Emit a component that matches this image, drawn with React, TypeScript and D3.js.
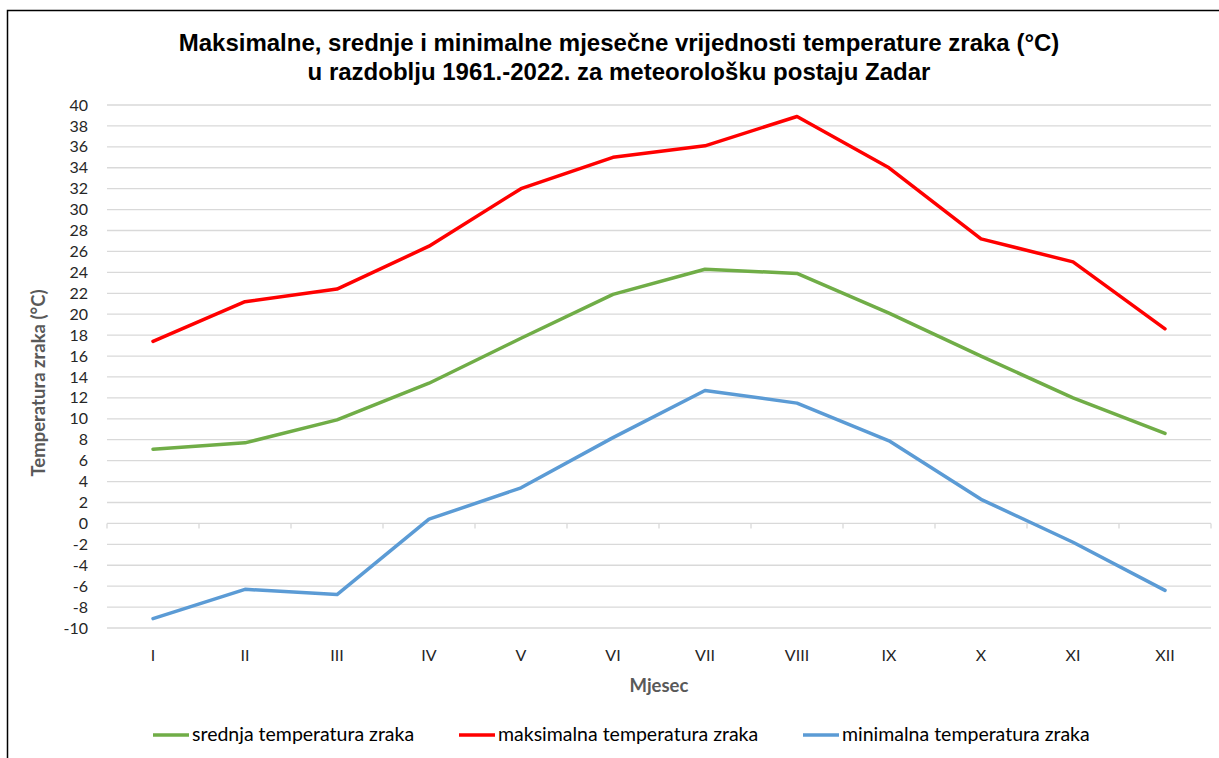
import React from "react";
import * as d3 from "d3";

const months = ["I", "II", "III", "IV", "V", "VI", "VII", "VIII", "IX", "X", "XI", "XII"];
const meanTemp = [7.1, 7.7, 9.9, 13.4, 17.7, 21.9, 24.3, 23.9, 20.1, 16.0, 12.0, 8.6];
const maxTemp = [17.4, 21.2, 22.4, 26.5, 32.0, 35.0, 36.1, 38.9, 34.0, 27.2, 25.0, 18.6];
const minTemp = [-9.1, -6.3, -6.8, 0.4, 3.4, 8.2, 12.7, 11.5, 7.9, 2.3, -1.8, -6.4];
const yTicks = d3.range(-10, 41, 2);

const series = [
  { name: "srednja temperatura zraka", values: meanTemp, color: "#70ad47" },
  { name: "maksimalna temperatura zraka", values: maxTemp, color: "#ff0000" },
  { name: "minimalna temperatura zraka", values: minTemp, color: "#5b9bd5" },
];

const W = 1219;
const H = 758;
const plot = { left: 107, right: 1211, top: 105, bottom: 628 };
const tickFont = "Lato, 'Noto Sans', sans-serif";
const titleFont = "'Liberation Sans', Arial, sans-serif";

export default function App() {
  const x = d3.scaleBand().domain(months).range([plot.left, plot.right]).padding(0);
  const y = d3.scaleLinear().domain([-10, 40]).range([plot.bottom, plot.top]);
  const cx = (m: string) => (x(m) as number) + x.bandwidth() / 2;

  const line = d3
    .line<number>()
    .x((_, i) => cx(months[i]))
    .y((d) => y(d));

  const legendX = [153, 459, 803];

  return (
    <div style={{ position: "fixed", left: 0, top: 0 }}>
      <svg width={W} height={H} style={{ display: "block", background: "#fff" }}>
        <rect x={7.5} y={10.5} width={1240} height={780} fill="#fff" stroke="#000" strokeWidth={1.5} />

        {/* title */}
        <text x={619} y={51} textAnchor="middle" fontFamily={titleFont} fontWeight="bold" fontSize={24} fill="#000">
          Maksimalne, srednje i minimalne mjesečne vrijednosti temperature zraka (°C)
        </text>
        <text x={619} y={80} textAnchor="middle" fontFamily={titleFont} fontWeight="bold" fontSize={24} fill="#000">
          u razdoblju 1961.-2022. za meteorološku postaju Zadar
        </text>

        {/* gridlines + y labels */}
        {yTicks.map((t) => (
          <g key={t}>
            <line x1={plot.left} x2={plot.right} y1={y(t)} y2={y(t)} stroke="#d9d9d9" strokeWidth={1.3} />
            <text x={88} y={y(t)} dy="0.35em" textAnchor="end" fontFamily={tickFont} fontSize={16} fill="#262626">
              {t}
            </text>
          </g>
        ))}

        {/* category boundary ticks on the zero line */}
        {[...months.map((m) => x(m) as number), plot.right].map((bx, i) => (
          <line key={i} x1={bx} x2={bx} y1={y(0)} y2={y(0) + 5} stroke="#d9d9d9" strokeWidth={1.3} />
        ))}

        {/* x labels */}
        {months.map((m) => (
          <text key={m} x={cx(m)} y={661} textAnchor="middle" fontFamily={tickFont} fontSize={16} fill="#262626">
            {m}
          </text>
        ))}

        {/* axis titles */}
        <text x={659} y={692} textAnchor="middle" fontFamily={tickFont} fontWeight="bold" fontSize={18.5} fill="#595959">
          Mjesec
        </text>
        <text
          transform="translate(45,383) rotate(-90)"
          textAnchor="middle"
          fontFamily={tickFont}
          fontWeight="bold"
          fontSize={18.5}
          fill="#595959"
        >
          Temperatura zraka (°C)
        </text>

        {/* data lines */}
        {series.map((s) => (
          <path
            key={s.name}
            d={line(s.values) || ""}
            fill="none"
            stroke={s.color}
            strokeWidth={3.5}
            strokeLinejoin="round"
            strokeLinecap="round"
          />
        ))}

        {/* legend */}
        {series.map((s, i) => (
          <g key={s.name}>
            <line x1={legendX[i]} x2={legendX[i] + 36} y1={735} y2={735} stroke={s.color} strokeWidth={3.5} />
            <text x={legendX[i] + 39} y={741} fontFamily={tickFont} fontSize={19.5} fill="#000">
              {s.name}
            </text>
          </g>
        ))}
      </svg>
    </div>
  );
}
